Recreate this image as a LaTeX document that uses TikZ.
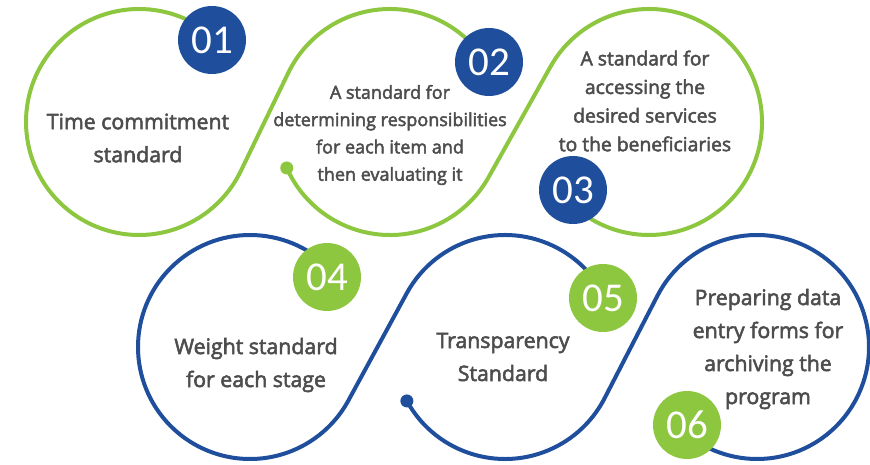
\documentclass[tikz,border=0pt]{standalone}
\usepackage{fontspec}
\setmainfont{Open Sans}[RawFeature={embolden=2.6}]
\newfontfamily\numfont{Carlito}
\usetikzlibrary{calc}
\definecolor{lgreen}{HTML}{8DC63F}
\definecolor{dblue}{HTML}{1F4E9C}
\definecolor{tgray}{HTML}{4D4D4D}
\begin{document}
\begin{tikzpicture}[x=1pt,y=1pt,
  wave/.style={line width=4pt},
  badge/.style={circle, minimum size=68pt, inner sep=0pt, text=white, font=\numfont\fontsize{41}{41}\selectfont},
  lbl/.style={align=center, text=tgray, inner sep=0pt},
  big/.style={font=\fontsize{21.3}{33}\selectfont},
  small/.style={font=\fontsize{18}{27.3}\selectfont},
  mid/.style={font=\fontsize{19.3}{28.6}\selectfont}]
\useasboundingbox (0,0) rectangle (870,464);
% loop centres
\coordinate (A) at (139,342);
\coordinate (B) at (390,342);
\coordinate (C) at (649,342);
\coordinate (D) at (250,117);
\coordinate (E) at (505,117);
\coordinate (F) at (757,117);
% strand starts
\coordinate (s1) at ($(A)+(48:113)$);
\coordinate (s2) at ($(B)+(204:113)$);
\coordinate (s3) at ($(D)+(42:112)$);
\coordinate (s4) at ($(E)+(208.8:112)$);
% green waves
\draw[wave,lgreen] (s1) arc[start angle=48,end angle=334.2,radius=113] -- ($(B)+(154.2:113)$) arc[start angle=154.2,end angle=31,radius=113];
\draw[wave,lgreen] (s2) arc[start angle=204,end angle=330.8,radius=113] -- ($(C)+(150.8:113)$) arc[start angle=150.8,end angle=-138.2,radius=113];
\fill[lgreen] (s2) circle (6.5);
% blue waves
\draw[wave,dblue] (s3) arc[start angle=42,end angle=331.45,radius=112] -- ($(E)+(151.45:112)$) arc[start angle=151.45,end angle=26.5,radius=112];
\draw[wave,dblue] (s4) arc[start angle=208.8,end angle=332.73,radius=112] -- ($(F)+(152.73:112)$) arc[start angle=152.73,end angle=-131.9,radius=112];
\fill[dblue] (s4) circle (6.5);
% badges
\node[badge,fill=dblue] (b1) at (212,424) {01};
\node[badge,fill=dblue] (b2) at (489,402) {02};
\node[badge,fill=dblue] (b3) at (573,274) {03};
\node[badge,fill=lgreen] (b4) at (327,187) {04};
\node[badge,fill=lgreen] (b5) at (603,166) {05};
\node[badge,fill=lgreen] (b6) at (687,39) {06};
% texts
\node[lbl,big] (t1) at (138,326) {Time commitment\\standard};
\node[lbl,small] (t2) at (390,329) {A standard for\\determining responsibilities\\for each item and\\then evaluating it};
\node[lbl,mid] (t3) at (645,363) {A standard for\\accessing the\\desired services\\to the beneficiaries};
\node[lbl,big] (t4) at (256,99) {Weight standard\\for each stage};
\node[lbl,big] (t5) at (503,107) {Transparency\\Standard};
\node[lbl,big] (t6) at (768,115) {Preparing data\\entry forms for\\archiving the\\program};
\end{tikzpicture}
\end{document}
